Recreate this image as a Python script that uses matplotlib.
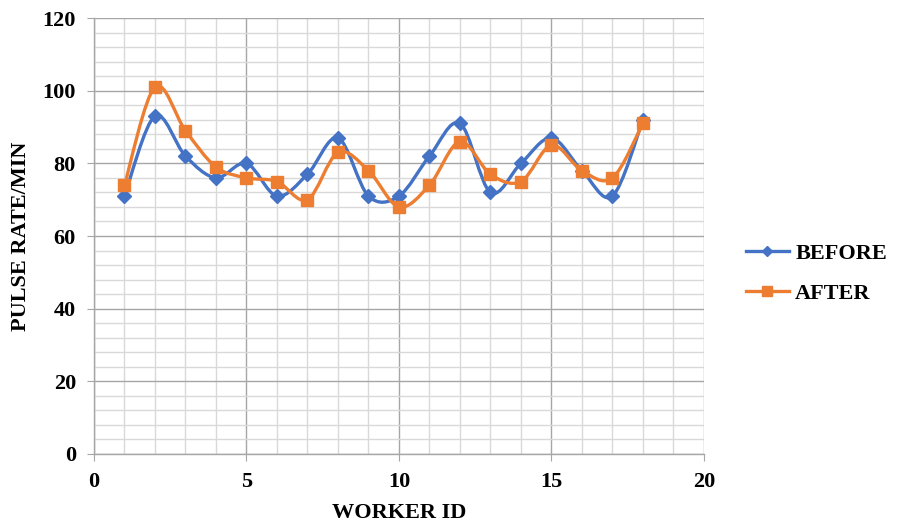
import numpy as np
import matplotlib
matplotlib.use('Agg')
import matplotlib.pyplot as plt
import matplotlib.patches as mpatches
from matplotlib.ticker import MultipleLocator
from matplotlib.path import Path

worker_id = [1, 2, 3, 4, 5, 6, 7, 8, 9, 10, 11, 12, 13, 14, 15, 16, 17, 18]
before = [71, 93, 82, 76, 80, 71, 77, 87, 71, 71, 82, 91, 72, 80, 87, 78, 71, 92]
after = [74, 101, 89, 79, 76, 75, 70, 83, 78, 68, 74, 86, 77, 75, 85, 78, 76, 91]

BLUE = '#4472C4'
ORANGE = '#ED7D31'


def smooth_path(xs, ys):
    # spreadsheet-style smoothed line: cubic Bezier through each point
    p = np.column_stack([xs, ys]).astype(float)
    n = len(p)
    verts = [p[0]]
    codes = [Path.MOVETO]
    for i in range(n - 1):
        p0 = p[i - 1] if i > 0 else p[i]
        p3 = p[i + 2] if i + 2 < n else p[i + 1]
        c1 = p[i] + (p[i + 1] - p0) / 6.0
        c2 = p[i + 1] - (p3 - p[i]) / 6.0
        verts += [c1, c2, p[i + 1]]
        codes += [Path.CURVE4] * 3
    return Path(verts, codes)


plt.rcParams['font.family'] = 'Liberation Serif'
plt.rcParams['font.weight'] = 'bold'

fig = plt.figure(figsize=(9.0, 5.24), dpi=100)
ax = fig.add_axes([0.1044, 0.1336, 0.6778, 0.832])

for ys, col, mk, ms, lab in [(before, BLUE, 'D', 7, 'BEFORE'), (after, ORANGE, 's', 9, 'AFTER')]:
    ax.add_patch(mpatches.PathPatch(smooth_path(worker_id, ys), fill=False,
                                    edgecolor=col, lw=2.4, zorder=3, capstyle='round'))
    ax.plot(worker_id, ys, ls='none', marker=mk, ms=ms, color=col, zorder=4)
    ax.plot([], [], color=col, lw=2.4, marker=mk, ms=ms * 0.8, label=lab)

ax.set_xlim(0, 20)
ax.set_ylim(0, 120)
ax.xaxis.set_major_locator(MultipleLocator(5))
ax.xaxis.set_minor_locator(MultipleLocator(1))
ax.yaxis.set_major_locator(MultipleLocator(20))
ax.yaxis.set_minor_locator(MultipleLocator(4))
ax.grid(which='major', color='#A6A6A6', lw=1.0, zorder=1)
ax.grid(which='minor', color='#D9D9D9', lw=1.0, zorder=0)
ax.set_axisbelow(True)

for s in ['top', 'right']:
    ax.spines[s].set_visible(False)
for s in ['left', 'bottom']:
    ax.spines[s].set_color('#A6A6A6')
    ax.spines[s].set_linewidth(1.0)
ax.tick_params(which='major', length=5, color='#A6A6A6', labelsize=16, pad=8)
ax.tick_params(which='minor', length=0)
for t in ax.get_xticklabels() + ax.get_yticklabels():
    t.set_fontweight('bold')

ax.set_xlabel('WORKER ID', fontsize=16, fontweight='bold', labelpad=8)
ax.set_ylabel('PULSE RATE/MIN', fontsize=16, fontweight='bold', labelpad=8)

fig.legend(loc='center left', bbox_to_anchor=(0.807, 0.478), frameon=False,
           prop={'size': 16, 'weight': 'bold'}, handlelength=1.9, labelspacing=0.9,
           handletextpad=0.3)

fig.savefig('out.png', dpi=100)
